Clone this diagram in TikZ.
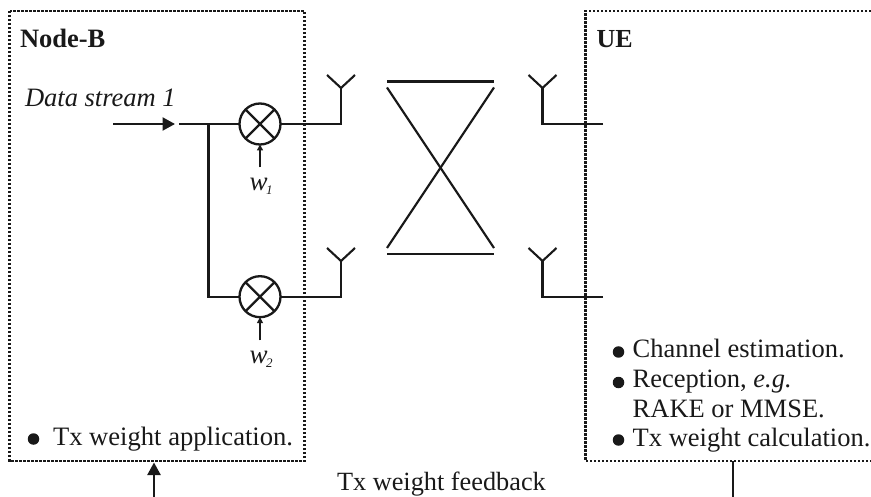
\documentclass[tikz,border=0pt]{standalone}
\usepackage{fontspec}
\setmainfont{Liberation Serif}
\usetikzlibrary{arrows.meta}
\tikzset{
  wire/.style={line width=2.3pt,draw=black!90,line cap=butt,line join=miter},
  thin wire/.style={line width=2.1pt,draw=black!90},
  boxline/.style={line width=2.4pt,draw=black!90,dash pattern=on 2.2pt off 1.8pt},
  mixer/.style={circle,draw=black!90,line width=2.3pt,minimum size=41pt,inner sep=0pt,outer sep=0pt},
  bigarrow/.style={-{Triangle[length=12.5pt,width=13pt]}},
  smallarrow/.style={-{Triangle[length=6pt,width=6pt]}},
  dot/.style={circle,fill=black!90,draw=none,minimum size=11.5pt,inner sep=0pt},
  lab/.style={anchor=base west,inner sep=0pt,outer sep=0pt,text=black!90}
}
\begin{document}
\begin{tikzpicture}[x=1pt,y=-1pt]
\useasboundingbox (0,0) rectangle (871,497);
% boxes
\coordinate (bnw) at (9.5,11); \coordinate (bse) at (304.5,461);
\draw[boxline] (bnw) rectangle (bse);
\coordinate (ute) at (871,11); \coordinate (utw) at (585.5,11);
\coordinate (ubw) at (585.5,461); \coordinate (ube) at (871,461);
\draw[boxline] (ute) -- (utw) -- (ubw) -- (ube);
% labels
\node[lab,font=\fontsize{26.5}{26}\selectfont\bfseries] (nb) at (20,48) {Node-B};
\node[lab,font=\fontsize{26}{26}\selectfont\bfseries] (ue) at (596.7,48) {UE};
\node[lab,font=\fontsize{26.5}{26}\selectfont\itshape] (ds) at (25,107) {Data stream 1};
% mixers
\node[mixer] (m1) at (260,124) {};
\node[mixer] (m2) at (260,296.7) {};
\foreach \m in {m1,m2}{
  \draw[wire] (\m.45) -- (\m.225);
  \draw[wire] (\m.135) -- (\m.315);
}
% data stream
\coordinate (ds0) at (113,124); \coordinate (ds1) at (175,124);
\coordinate (ds2) at (179,124); \coordinate (j) at (208.5,124);
\coordinate (j2) at (208.5,296.7);
\draw[wire,bigarrow] (ds0) -- (ds1);
\draw[wire] (ds2) -- (m1.west);
\draw[wire] (j) -- (j2) -- (m2.west);
% tx antennas
\coordinate (a1) at (341,88); \coordinate (a2) at (341,261);
\coordinate (b1) at (542.5,88); \coordinate (b2) at (542.5,261);
\draw[wire] (m1.east) -- (341,124) -- (a1);
\draw[wire] (m2.east) -- (341,296.7) -- (a2);
\draw[wire] (603,124) -- (542.5,124) -- (b1);
\draw[wire] (603,296.7) -- (542.5,296.7) -- (b2);
\foreach \a in {a1,a2,b1,b2}{
  \draw[thin wire] (\a) ++(-14,-13) -- (\a) -- ++(14,-13);
}
% channel
\coordinate (c1) at (387,81.5); \coordinate (c2) at (494,81.5);
\coordinate (c3) at (387,254); \coordinate (c4) at (494,254);
\coordinate (d1) at (387,87.5); \coordinate (d2) at (494,87.5);
\coordinate (d3) at (387,248); \coordinate (d4) at (494,248);
\draw[thin wire] (c1) -- (c2);
\draw[thin wire] (c3) -- (c4);
\draw[thin wire] (d1) -- (d4);
\draw[thin wire] (d2) -- (d3);
% weights
\coordinate (w1s) at (260,167.5); \coordinate (w2s) at (260,340.5);
\draw[wire,smallarrow] (w1s) -- (m1.south);
\draw[wire,smallarrow] (w2s) -- (m2.south);
\node[lab,font=\fontsize{27}{27}\selectfont\itshape] (w1) at (249.5,190.5) {w};
\node[lab,font=\fontsize{13}{13}\selectfont\itshape] (w1i) at (266,195) {1};
\node[lab,font=\fontsize{27}{27}\selectfont\itshape] (w2) at (249.5,363) {w};
\node[lab,font=\fontsize{13}{13}\selectfont\itshape] (w2i) at (266,367.5) {2};
% lists
\node[dot] (p0) at (33.5,439) {};
\node[lab,font=\fontsize{26.6}{26}\selectfont] (t0) at (53,445) {Tx weight application.};
\node[dot] (p1) at (618.5,352) {};
\node[dot] (p2) at (618.5,382.5) {};
\node[dot] (p3) at (618.5,440) {};
\node[lab,font=\fontsize{26.5}{27}\selectfont] (t1) at (632.7,358) {Channel estimation.};
\node[lab,font=\fontsize{26.5}{27}\selectfont] (t2) at (632.7,388) {Reception, \textit{e.g.}};
\node[lab,font=\fontsize{26.5}{27}\selectfont] (t3) at (632.7,417.7) {RAKE or MMSE.};
\node[lab,font=\fontsize{26.5}{27}\selectfont] (t4) at (632.7,446.7) {Tx weight calculation.};
% feedback
\node[lab,font=\fontsize{26.3}{26}\selectfont] (fb) at (337,490.7) {Tx weight feedback};
\coordinate (fbl) at (154,497); \coordinate (fbr) at (733,497);
\coordinate (bf) at (154,462.5); \coordinate (uf) at (733,461);
\draw[wire,bigarrow] (fbl) -- (bf);
\draw[wire] (uf) -- (fbr);
\end{tikzpicture}
\end{document}
